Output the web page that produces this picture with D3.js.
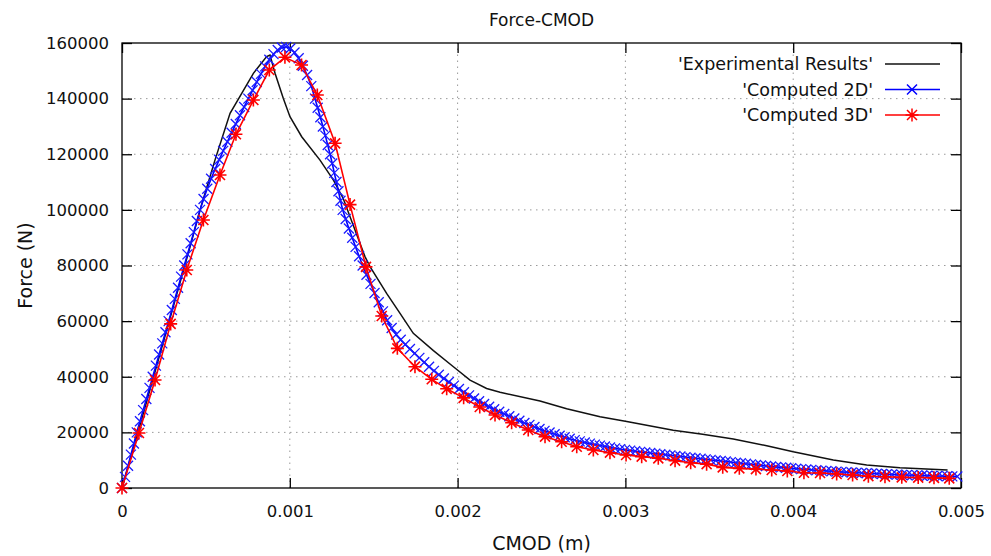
<!DOCTYPE html>
<html lang="en">
<head>
<meta charset="UTF-8">
<script src="https://d3js.org/d3.v7.min.js"></script>
<title>Force-CMOD</title>
<style>
  body { margin: 0; background: white; }
  svg text { font-family: "DejaVu Sans", Verdana, sans-serif; fill: #111; }
  .grid line { stroke: #9a9a9a; stroke-width: 1; stroke-dasharray: 1.5,4.5; }
</style>
</head>
<body>
<svg></svg>
<script>
// tick values and labels
const xTicks = [0, 0.001, 0.002, 0.003, 0.004, 0.005];
const xTickLabels = ["0", "0.001", "0.002", "0.003", "0.004", "0.005"];
const yTicks = [0, 20000, 40000, 60000, 80000, 100000, 120000, 140000, 160000];

const seriesNames = ["'Experimental Results'", "'Computed 2D'", "'Computed 3D'"];

// Experimental Results (black line)
const expCmod = [0, 0.0001, 0.0002, 0.0003, 0.0004, 0.00047, 0.000554, 0.000644, 0.000783, 0.000862, 0.000882,
  0.000912, 0.000961, 0.001001, 0.001071, 0.00118, 0.00126, 0.001319, 0.001378, 0.001448, 0.001478, 0.001577,
  0.001657, 0.001736, 0.001856, 0.001975, 0.002074, 0.002173, 0.002253, 0.002491, 0.00265, 0.002849, 0.003008,
  0.003285, 0.00346, 0.003643, 0.003842, 0.004, 0.004239, 0.004438, 0.004636, 0.00492];
const expForce = [0, 21000, 42500, 64000, 85500, 101000, 117900, 134700, 149100, 155100, 155700,
  149100, 140100, 133500, 126300, 117900, 110700, 104000, 94500, 83200, 79600, 70000,
  62800, 55600, 49400, 43600, 38800, 35800, 34400, 31300, 28500, 25600, 23900,
  20800, 19300, 17600, 15200, 13000, 10100, 8300, 7300, 6500];

// Computed 2D (blue, x markers)
const c2dCmod = [0, 0.000018, 0.000036, 0.000053, 0.000071, 0.000088, 0.000107, 0.000126, 0.000145, 0.000164,
  0.000183, 0.000202, 0.000221, 0.00024, 0.000259, 0.000278, 0.000297, 0.000315, 0.000334, 0.000352,
  0.000371, 0.00039, 0.000409, 0.000428, 0.000446, 0.000465, 0.000486, 0.000508, 0.000531, 0.000555,
  0.000579, 0.000603, 0.000628, 0.000653, 0.000678, 0.000703, 0.000728, 0.000753, 0.000778, 0.000803,
  0.000828, 0.000853, 0.000878, 0.000903, 0.000928, 0.000953, 0.000978, 0.001003, 0.001028, 0.001053,
  0.001078, 0.001103, 0.001128, 0.00115, 0.001166, 0.001182, 0.001197, 0.001212, 0.001226, 0.00124,
  0.001253, 0.001265, 0.001278, 0.00129, 0.001302, 0.001315, 0.001333, 0.001352, 0.001372, 0.001392,
  0.001413, 0.001434, 0.001457, 0.001481, 0.001505, 0.00153, 0.001555, 0.00158, 0.001607, 0.001634,
  0.001661, 0.001688, 0.001716, 0.001744, 0.001772, 0.001801, 0.00183, 0.001859, 0.001888, 0.001918,
  0.001948, 0.001978, 0.002008, 0.002038, 0.002068, 0.002098, 0.002128, 0.002158, 0.002188, 0.002218,
  0.002248, 0.002278, 0.002308, 0.002338, 0.002368, 0.002398, 0.002428, 0.002458, 0.002488, 0.002518,
  0.002548, 0.002578, 0.002608, 0.002638, 0.002668, 0.002698, 0.002728, 0.002758, 0.002788, 0.002818,
  0.002848, 0.002878, 0.002908, 0.002938, 0.002968, 0.002998, 0.003028, 0.003058, 0.003088, 0.003118,
  0.003148, 0.003178, 0.003208, 0.003238, 0.003268, 0.003298, 0.003328, 0.003358, 0.003388, 0.003418,
  0.003448, 0.003478, 0.003508, 0.003538, 0.003568, 0.003598, 0.003628, 0.003658, 0.003688, 0.003718,
  0.003748, 0.003778, 0.003808, 0.003838, 0.003868, 0.003898, 0.003928, 0.003958, 0.003988, 0.004018,
  0.004048, 0.004078, 0.004108, 0.004138, 0.004168, 0.004198, 0.004228, 0.004258, 0.004288, 0.004318,
  0.004348, 0.004378, 0.004408, 0.004438, 0.004468, 0.004498, 0.004528, 0.004558, 0.004588, 0.004618,
  0.004648, 0.004678, 0.004708, 0.004738, 0.004768, 0.004798, 0.004828, 0.004858, 0.004888, 0.004918,
  0.004948, 0.004978];
const c2dForce = [0, 4000, 8000, 12000, 16000, 20000, 24000, 28000, 32000, 36000,
  40000, 44000, 48000, 52000, 56000, 60000, 64000, 68000, 72000, 76000,
  80000, 84000, 88000, 92000, 96000, 100000, 103900, 107600, 111200, 114700,
  118000, 121200, 124500, 127700, 130900, 134000, 137000, 140000, 143000, 146000,
  148900, 151600, 154000, 156000, 157500, 158400, 158600, 158000, 156600, 154500,
  151800, 148500, 144500, 140000, 136700, 133300, 130000, 126700, 123300, 120000,
  116700, 113300, 110000, 106700, 103300, 100000, 96700, 93300, 90000, 86700,
  83300, 80000, 76700, 73400, 70100, 66800, 63500, 60300, 57500, 55200,
  53300, 51600, 50000, 48400, 46800, 45200, 43600, 42100, 40700, 39400,
  38100, 36800, 35600, 34400, 33300, 32200, 31200, 30200, 29200, 28300,
  27400, 26600, 25800, 25000, 24200, 23400, 22700, 21950, 21200, 20550,
  19950, 19350, 18800, 18250, 17700, 17200, 16750, 16350, 15950, 15600,
  15250, 14900, 14550, 14250, 13950, 13700, 13450, 13200, 13000, 12790,
  12580, 12370, 12160, 11950, 11740, 11530, 11320, 11110, 10900, 10700,
  10500, 10300, 10100, 9900, 9700, 9500, 9300, 9100, 8900, 8700,
  8500, 8300, 8100, 7920, 7750, 7580, 7420, 7260, 7100, 6950,
  6800, 6660, 6520, 6390, 6260, 6140, 6020, 5900, 5790, 5680,
  5580, 5480, 5380, 5290, 5200, 5110, 5030, 4950, 4870, 4800,
  4730, 4660, 4600, 4540, 4480, 4420, 4370, 4320, 4270, 4220,
  4180, 4140];

// Computed 3D (red, * markers)
const c3dCmod = [0, 0.000101, 0.000197, 0.00029, 0.000386, 0.000485, 0.000584, 0.000679, 0.000783, 0.000878,
  0.000971, 0.00107, 0.001164, 0.00127, 0.001359, 0.001454, 0.001548, 0.001641, 0.001746, 0.001846,
  0.001935, 0.002036, 0.002132, 0.002223, 0.002322, 0.002421, 0.002521, 0.00262, 0.00271, 0.002809,
  0.002908, 0.003004, 0.003097, 0.003196, 0.003296, 0.003389, 0.003484, 0.00358, 0.003679, 0.003778,
  0.003872, 0.003965, 0.004064, 0.00416, 0.004259, 0.004354, 0.004448, 0.004547, 0.004647, 0.004745,
  0.004839, 0.00493];
const c3dForce = [0, 19775, 38830, 59000, 78380, 96360, 112540, 127170, 139500, 150290,
  154850, 152090, 141300, 123930, 101900, 79500, 61840, 50220, 43620, 39080,
  35660, 32420, 29120, 26250, 23490, 20850, 18450, 16650, 14850, 13660,
  12700, 11870, 11270, 10670, 9820, 9100, 8570, 7430, 7070, 6800,
  6470, 6110, 5500, 5400, 5030, 4670, 4250, 4070, 3830, 3750,
  3650, 3470];

const W = 991, H = 556;
const margin = {top: 43, right: 30, bottom: 68, left: 122};

const svg = d3.select("svg").attr("width", W).attr("height", H);

const x = d3.scaleLinear().domain([0, 0.005]).range([margin.left, W - margin.right]);
const y = d3.scaleLinear().domain([0, 160000]).range([H - margin.bottom, margin.top]);

// grid
const grid = svg.append("g").attr("class", "grid");
grid.selectAll(".gx").data(xTicks.slice(1, -1)).enter().append("line")
  .attr("x1", d => x(d)).attr("x2", d => x(d))
  .attr("y1", y(0)).attr("y2", y(160000));
grid.selectAll(".gy").data(yTicks.slice(1, -1)).enter().append("line")
  .attr("x1", x(0)).attr("x2", x(0.005))
  .attr("y1", d => y(d)).attr("y2", d => y(d));

// axes, ticks inward and mirrored
const tickLen = 10;
const fmtX = (d, i) => xTickLabels[i];

const xAxisB = d3.axisBottom(x).tickValues(xTicks).tickFormat(fmtX).tickSizeInner(-tickLen).tickSizeOuter(0).tickPadding(17);
const xAxisT = d3.axisTop(x).tickValues(xTicks).tickFormat("").tickSizeInner(-tickLen).tickSizeOuter(0);
const yAxisL = d3.axisLeft(y).tickValues(yTicks).tickFormat(d3.format("d")).tickSizeInner(-tickLen).tickSizeOuter(0).tickPadding(13);
const yAxisR = d3.axisRight(y).tickValues(yTicks).tickFormat("").tickSizeInner(-tickLen).tickSizeOuter(0);

function styleAxis(g) {
  g.select(".domain").remove();
  g.selectAll(".tick line").attr("stroke", "#000").attr("stroke-width", 1.3);
  g.selectAll(".tick text").style("font-family", "DejaVu Sans, Verdana, sans-serif").style("font-size", "16.5px").attr("fill", "#111");
}

svg.append("g").attr("transform", "translate(0," + y(0) + ")").call(xAxisB).call(styleAxis);
svg.append("g").attr("transform", "translate(0," + y(160000) + ")").call(xAxisT).call(styleAxis);
svg.append("g").attr("transform", "translate(" + x(0) + ",0)").call(yAxisL).call(styleAxis);
svg.append("g").attr("transform", "translate(" + x(0.005) + ",0)").call(yAxisR).call(styleAxis);

// frame
svg.append("rect")
  .attr("x", x(0)).attr("y", y(160000))
  .attr("width", x(0.005) - x(0)).attr("height", y(0) - y(160000))
  .attr("fill", "none").attr("stroke", "#000").attr("stroke-width", 1.3);

// series
const line = d3.line().x(d => x(d[0])).y(d => y(d[1]));
const expData = expCmod.map((c, i) => [c, expForce[i]]);
const c2dData = c2dCmod.map((c, i) => [c, c2dForce[i]]);
const c3dData = c3dCmod.map((c, i) => [c, c3dForce[i]]);

const crossPath = "M-5,-5L5,5M-5,5L5,-5";
const starPath = "M-5,-5L5,5M-5,5L5,-5M0,-6.5L0,6.5M-6.5,0L6.5,0";

svg.append("path").datum(expData).attr("d", line)
  .attr("fill", "none").attr("stroke", "#111").attr("stroke-width", 1.5);

svg.append("path").datum(c2dData).attr("d", line)
  .attr("fill", "none").attr("stroke", "#0000ff").attr("stroke-width", 1.6);
svg.append("g").selectAll("path").data(c2dData).enter().append("path")
  .attr("transform", d => "translate(" + x(d[0]) + "," + y(d[1]) + ")")
  .attr("d", crossPath).attr("stroke", "#1a1aff").attr("stroke-width", 1.3).attr("fill", "none");

svg.append("path").datum(c3dData).attr("d", line)
  .attr("fill", "none").attr("stroke", "#ff0000").attr("stroke-width", 1.6);
svg.append("g").selectAll("path").data(c3dData).enter().append("path")
  .attr("transform", d => "translate(" + x(d[0]) + "," + y(d[1]) + ")")
  .attr("d", starPath).attr("stroke", "#ff0000").attr("stroke-width", 1.6).attr("fill", "none");

// legend
const legendColors = ["#111", "#0000ff", "#ff0000"];
const legendMarks = [null, crossPath, starPath];
const legend = svg.append("g");
seriesNames.forEach((name, i) => {
  const ly = 64 + i * 25.5;
  legend.append("text").attr("x", 873).attr("y", ly).attr("dy", "0.35em")
    .attr("text-anchor", "end").style("font-size", "17.5px").text(name);
  legend.append("line").attr("x1", 885).attr("x2", 940).attr("y1", ly).attr("y2", ly)
    .attr("stroke", legendColors[i]).attr("stroke-width", 1.5);
  if (legendMarks[i]) {
    legend.append("path").attr("transform", "translate(912," + ly + ")")
      .attr("d", legendMarks[i]).attr("stroke", legendColors[i]).attr("stroke-width", 1.5).attr("fill", "none");
  }
});

// titles
svg.append("text").attr("x", (x(0) + x(0.005)) / 2).attr("y", 26)
  .attr("text-anchor", "middle").style("font-size", "17px").text("Force-CMOD");
svg.append("text").attr("x", (x(0) + x(0.005)) / 2).attr("y", 550)
  .attr("text-anchor", "middle").style("font-size", "19px").text("CMOD (m)");
svg.append("text").attr("transform", "translate(32," + (y(80000)) + ") rotate(-90)")
  .attr("text-anchor", "middle").style("font-size", "19px").text("Force (N)");
</script>
</body>
</html>
